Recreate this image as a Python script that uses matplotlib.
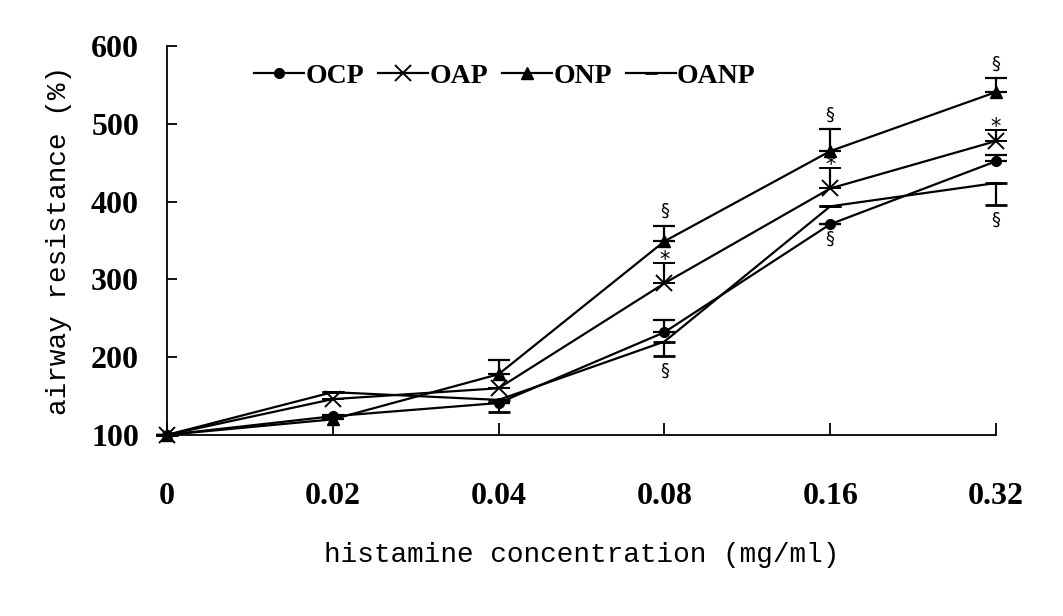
import matplotlib
matplotlib.use("Agg")
import matplotlib.pyplot as plt
from matplotlib.lines import Line2D
import numpy as np

# ---- data ----
concentrations = ["0", "0.02", "0.04", "0.08", "0.16", "0.32"]
ocp  = [100, 124, 141, 232, 371, 452]
oap  = [100, 146, 160, 295, 417, 478]
onp  = [100, 120, 178, 349, 465, 541]
oanp = [100, 155, 145, 220, 394, 424]

ocp_err_up   = [0, 0, 0, 16, 0, 8]
oap_err_up   = [0, 0, 0, 26, 26, 14]
onp_err_up   = [0, 6, 18, 20, 28, 18]
oanp_err_low = [0, 0, 15, 19, 0, 28]

sig_onp  = ["", "", "", "§", "§", "§"]
sig_oap  = ["", "", "", "*", "*", "*"]
sig_low  = ["", "", "", "§", "§", "§"]

yticks = [100, 200, 300, 400, 500, 600]

series_names = ["OCP", "OAP", "ONP", "OANP"]
series_markers = ["o", "x", "^", "_"]
series_ms = [7, 12, 9, 8]

# ---- plot ----
fig = plt.figure(figsize=(10.63, 6.16), dpi=100)
ax = fig.add_axes([0.157, 0.294, 0.780, 0.631])
x = np.arange(len(concentrations))
z = np.zeros(len(x))

lw = 1.6
kw = dict(color="black", lw=lw, capsize=8, capthick=lw, elinewidth=lw, clip_on=False)
ax.errorbar(x, ocp, yerr=[z, ocp_err_up], marker="o", ms=7, **kw)
ax.errorbar(x, oap, yerr=[z, oap_err_up], marker="x", ms=12, mew=1.4, **kw)
ax.errorbar(x, onp, yerr=[z, onp_err_up], marker="^", ms=9, **kw)
ax.errorbar(x, oanp, yerr=[oanp_err_low, z], marker="_", ms=8, mew=2, **kw)

# significance marks
for i in range(len(x)):
    if sig_onp[i]:
        ax.annotate(sig_onp[i], (x[i], onp[i] + onp_err_up[i]), xytext=(0, 4),
                    textcoords="offset points", ha="center", va="bottom",
                    fontsize=13, family="DejaVu Sans")
    if sig_oap[i]:
        ax.annotate(sig_oap[i], (x[i], oap[i] + oap_err_up[i]), xytext=(0, -5),
                    textcoords="offset points", ha="center", va="bottom",
                    fontsize=15, family="DejaVu Sans")
    if sig_low[i]:
        low = min(ocp[i], oanp[i] - oanp_err_low[i])
        ax.annotate(sig_low[i], (x[i], low), xytext=(0, -4),
                    textcoords="offset points", ha="center", va="top",
                    fontsize=13, family="DejaVu Sans")

ax.set_xlim(0, len(x) - 1)
ax.set_ylim(100, 600)
ax.set_xticks(x)
ax.set_xticklabels(concentrations)
ax.set_yticks(yticks)
ax.set_yticklabels([str(v) for v in yticks])
for lab in ax.get_xticklabels() + ax.get_yticklabels():
    lab.set_fontfamily("Liberation Serif")
    lab.set_fontweight("bold")
    lab.set_fontsize(23)
ax.tick_params(axis="x", direction="in", length=9, width=1.3, pad=34)
ax.tick_params(axis="y", direction="in", length=7, width=1.3, pad=20)

for s in ["top", "right"]:
    ax.spines[s].set_visible(False)
for s in ["left", "bottom"]:
    ax.spines[s].set_linewidth(1.3)

ax.set_xlabel("histamine concentration (mg/ml)", family="Liberation Mono",
              fontsize=20, labelpad=22)
ax.set_ylabel("airway resistance (%)", family="Liberation Mono",
              fontsize=20, labelpad=14)

handles = [Line2D([], [], color="black", lw=lw, marker=m, ms=s, mew=(1.4 if m == "x" else 2 if m == "_" else 1))
           for m, s in zip(series_markers, series_ms)]
leg = ax.legend(handles, series_names, loc="upper left", bbox_to_anchor=(0.075, 1.02), ncol=4,
                frameon=False, handlelength=1.8, handletextpad=0.05,
                columnspacing=0.5,
                prop={"family": "Liberation Serif", "weight": "bold", "size": 20})

fig.savefig("out.png", dpi=100)
